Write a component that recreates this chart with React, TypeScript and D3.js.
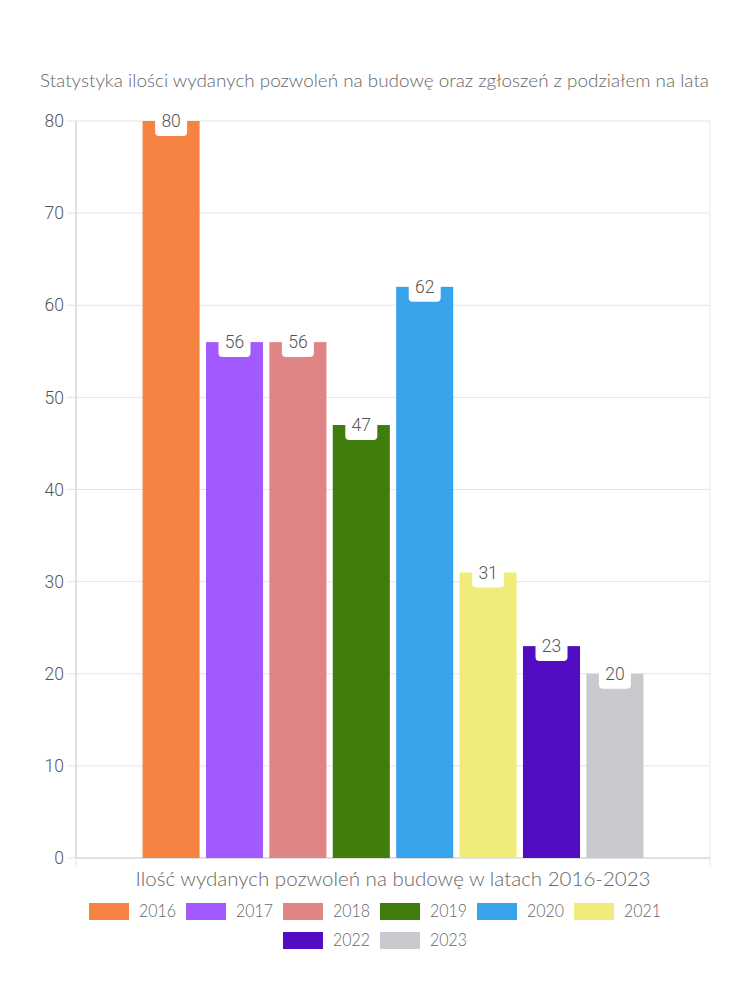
import React from "react";
import * as d3 from "d3";

const years = ["2016", "2017", "2018", "2019", "2020", "2021", "2022", "2023"];
const values = [80, 56, 56, 47, 62, 31, 23, 20];
const colors = ["#f58442", "#a259ff", "#e08585", "#3f7d0d", "#37a3eb", "#f0ec7c", "#520dc2", "#c9cacd"];
const yTicks = [0, 10, 20, 30, 40, 50, 60, 70, 80];
const title = "Statystyka ilości wydanych pozwoleń na budowę oraz zgłoszeń z podziałem na lata";
const xTitle = "Ilość wydanych pozwoleń na budowę w latach 2016-2023";

const W = 750, H = 1000;
const left = 76, right = 710, top = 121, bottom = 858;
const roundFont = "Lato, 'Noto Sans', sans-serif";
const numFont = "Roboto, 'Liberation Sans', Arial, sans-serif";
const textColor = "#666";

export default function App() {
  const y = d3.scaleLinear().domain([0, 80]).range([bottom, top]);
  const catW = right - left;
  const groupW = catW * 0.8;
  const x = d3.scaleBand().domain(years).range([left + (catW - groupW) / 2, left + (catW + groupW) / 2]).paddingInner(0).paddingOuter(0);
  const slot = x.bandwidth();
  const barW = slot * 0.9;

  // legend layout
  const legendFontSize = 17;
  const boxW = 40, boxH = 17;
  const legendTextW = 37;
  const itemWidths = years.map(() => boxW + 10 + legendTextW);
  const maxRow = 640;
  const rows: { idx: number[]; width: number }[] = [];
  let cur: number[] = [], curW = 0;
  itemWidths.forEach((w, i) => {
    if (curW + w > maxRow && cur.length) { rows.push({ idx: cur, width: curW - 10 }); cur = []; curW = 0; }
    cur.push(i); curW += w + 10;
  });
  if (cur.length) rows.push({ idx: cur, width: curW - 10 });
  const legendTop = 903;
  const rowH = 29;

  return (
    <svg width={W} height={H} style={{ position: "absolute", left: 0, top: 0, background: "#fff" }}>
      <text x={374.5} y={87} textAnchor="middle" fontFamily={roundFont} fontWeight={300} fontSize={17} fill={textColor} textLength={669} lengthAdjust="spacingAndGlyphs">{title}</text>
      {yTicks.map((t) => (
        <g key={t}>
          <line x1={left} x2={right} y1={y(t)} y2={y(t)} stroke="#e5e5e5" strokeWidth={1} />
          <line x1={left - 9} x2={left} y1={y(t)} y2={y(t)} stroke="#e5e5e5" strokeWidth={1} />
          <text x={left - 12} y={y(t)} dy="0.35em" textAnchor="end" fontFamily={numFont} fontWeight={300} fontSize={17.5} fill="#555">{t}</text>
        </g>
      ))}
      <line x1={left} x2={left} y1={top} y2={bottom + 8} stroke="#e5e5e5" />
      <line x1={right} x2={right} y1={top} y2={bottom + 8} stroke="#e5e5e5" />
      <line x1={left} x2={left} y1={top} y2={bottom} stroke="#cfcfcf" />
      <line x1={left} x2={right} y1={bottom} y2={bottom} stroke="#cfcfcf" />
      {years.map((yr, i) => {
        const cx = x(yr)! + slot / 2;
        return (
          <rect key={yr} x={cx - barW / 2} y={y(values[i])} width={barW} height={bottom - y(values[i])} fill={colors[i]} />
        );
      })}
      {years.map((yr, i) => {
        const cx = x(yr)! + slot / 2;
        const ty = y(values[i]);
        return (
          <g key={"l" + yr}>
            <rect x={cx - 16} y={ty - 16} width={32} height={31} rx={4} fill="#fff" />
            <text x={cx} y={ty} dy="0.35em" textAnchor="middle" fontFamily={numFont} fontWeight={300} fontSize={17.5} fill="#555">{values[i]}</text>
          </g>
        );
      })}
      <text x={(left + right) / 2} y={886} textAnchor="middle" fontFamily={roundFont} fontWeight={300} fontSize={19} fill={textColor} textLength={515} lengthAdjust="spacingAndGlyphs">{xTitle}</text>
      {rows.map((row, r) => {
        let xx = 375 - row.width / 2;
        return row.idx.map((i) => {
          const gx = xx;
          xx += itemWidths[i] + 10;
          const gy = legendTop + r * rowH;
          return (
            <g key={"lg" + i}>
              <rect x={gx} y={gy} width={boxW} height={boxH} fill={colors[i]} />
              <text x={gx + boxW + 10} y={gy + boxH / 2} dy="0.35em" fontFamily={roundFont} fontWeight={300} fontSize={legendFontSize} fill={textColor} textLength={legendTextW} lengthAdjust="spacingAndGlyphs">{years[i]}</text>
            </g>
          );
        });
      })}
    </svg>
  );
}
